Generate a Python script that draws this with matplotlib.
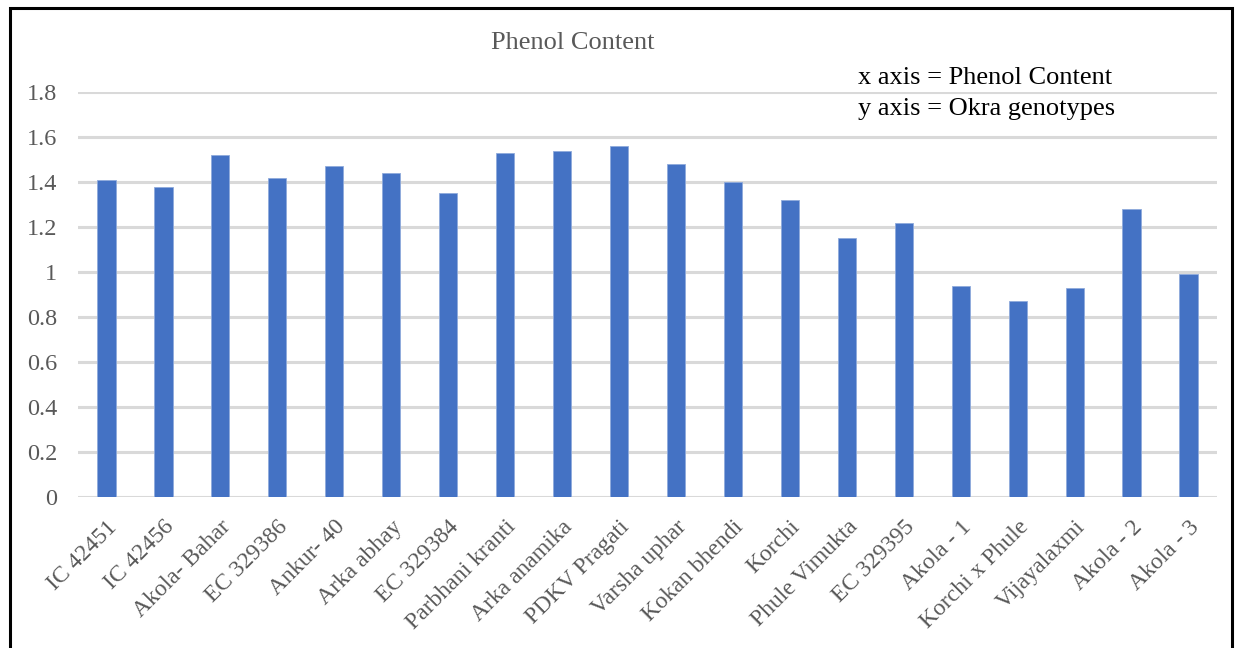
import matplotlib.pyplot as plt
from matplotlib.patches import Rectangle

genotypes = ["IC 42451", "IC 42456", "Akola- Bahar", "EC 329386", "Ankur- 40",
             "Arka abhay", "EC 329384", "Parbhani kranti", "Arka anamika",
             "PDKV Pragati", "Varsha uphar", "Kokan bhendi", "Korchi",
             "Phule Vimukta", "EC 329395", "Akola - 1", "Korchi x Phule",
             "Vijayalaxmi", "Akola - 2", "Akola - 3"]
phenol = [1.41, 1.38, 1.52, 1.42, 1.47, 1.44, 1.35, 1.53, 1.54, 1.56,
          1.48, 1.40, 1.32, 1.15, 1.22, 0.94, 0.87, 0.93, 1.28, 0.99]
yticks = [0, 0.2, 0.4, 0.6, 0.8, 1, 1.2, 1.4, 1.6, 1.8]
ytick_labels = ["0", "0.2", "0.4", "0.6", "0.8", "1", "1.2", "1.4", "1.6", "1.8"]

plt.rcParams['font.family'] = ['Liberation Serif', 'DejaVu Serif']

W, H = 1241, 648
fig = plt.figure(figsize=(W / 100, H / 100), dpi=100)
ax = fig.add_axes([78 / W, 1 - 497 / H, (1217 - 78) / W, (497 - 92) / H])

x = list(range(len(genotypes)))
ax.bar(x, phenol, width=0.32, color="#4472C4", edgecolor="#8FAADC",
       linewidth=0.6, zorder=3)

ax.set_xlim(-0.5, len(genotypes) - 0.5)
ax.set_ylim(0, 1.8)
ax.set_yticks(yticks)
ax.set_yticklabels(ytick_labels)
ax.set_xticks(x)
ax.set_xticklabels(genotypes, rotation=45, ha="right", rotation_mode="anchor")
ax.tick_params(axis="both", length=0, colors="#595959", labelsize=17.5)
ax.tick_params(axis="x", labelsize=17, pad=14)
ax.tick_params(axis="y", pad=15)
ax.yaxis.grid(True, color="#D9D9D9", linewidth=2.2, zorder=0)
ax.set_axisbelow(True)
for s in ax.spines.values():
    s.set_visible(False)

# chart title and axis note
fig.text(573 / W, 1 - 43 / H, "Phenol Content", ha="center", va="center",
         fontsize=19, color="#595959")
fig.text(858 / W, 1 - 78 / H, "x axis = Phenol Content", ha="left",
         va="center", fontsize=19, color="black")
fig.text(858 / W, 1 - 109 / H, "y axis = Okra genotypes", ha="left",
         va="center", fontsize=19, color="black")

# outer frame
fig.patches.append(Rectangle((10 / W, -0.05), (1232 - 10) / W, 1 - 8 / H + 0.05,
                             transform=fig.transFigure, fill=False,
                             edgecolor="black", linewidth=2.2))

fig.savefig("out.png", dpi=100)
